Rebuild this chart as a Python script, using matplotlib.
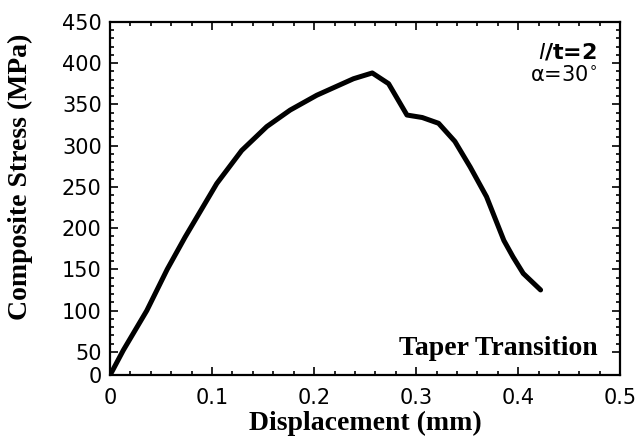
import numpy as np
from matplotlib import pyplot as plt
from matplotlib.ticker import FixedLocator, FixedFormatter

# displacement (mm) and composite stress (MPa)
displacement = [0, 0.013, 0.036, 0.056, 0.0735, 0.1046, 0.129, 0.1536,
                0.1765, 0.2026, 0.2386, 0.257, 0.273, 0.291, 0.306, 0.322,
                0.338, 0.353, 0.369, 0.386, 0.395, 0.405, 0.422]
stress = [0, 52, 100, 150, 189, 254, 294, 323,
          343, 361, 381, 388, 375, 337, 334, 327,
          305, 274, 238, 185, 165, 145, 125]

x_ticks = [0, 0.1, 0.2, 0.3, 0.4, 0.5]
y_ticks = [0, 50, 100, 150, 200, 250, 300, 350, 400, 450]

# the original y axis squeezes the 0-50 band
K = 0.565


def fwd(y):
    y = np.asarray(y, dtype=float)
    return np.where(y >= 50, y, 50 - (50 - y) * K)


def inv(y):
    y = np.asarray(y, dtype=float)
    return np.where(y >= 50, y, 50 - (50 - y) / K)


def main():
    plt.rcParams['font.family'] = 'DejaVu Sans'
    fig = plt.figure(figsize=(6.4, 4.45), dpi=100)
    ax = fig.add_axes([0.172, 0.157, 0.797, 0.794])

    ax.set_yscale('function', functions=(fwd, inv))
    ax.plot(displacement, stress, color='black', linewidth=3.6,
            solid_joinstyle='round', solid_capstyle='round')

    ax.set_xlim(0, 0.5)
    ax.set_ylim(0, 450)
    ax.xaxis.set_major_locator(FixedLocator(x_ticks))
    ax.xaxis.set_major_formatter(FixedFormatter([f'{t:g}' for t in x_ticks]))
    ax.xaxis.set_minor_locator(FixedLocator(np.arange(0, 0.5001, 0.02)))
    ax.yaxis.set_major_locator(FixedLocator(y_ticks))
    ax.yaxis.set_major_formatter(FixedFormatter([str(t) for t in y_ticks]))
    ax.yaxis.set_minor_locator(FixedLocator(np.arange(50, 451, 10)))

    ax.tick_params(which='both', direction='in', top=True, right=True,
                   width=1.2, labelsize=15)
    ax.tick_params(axis='x', pad=9)
    ax.tick_params(axis='y', pad=6)
    ax.tick_params(which='major', length=6)
    ax.tick_params(which='minor', length=3)
    for s in ax.spines.values():
        s.set_linewidth(1.6)

    ax.set_xlabel('Displacement (mm)', family='Liberation Serif',
                  fontweight='bold', fontsize=20, labelpad=2)
    ax.set_ylabel('Composite Stress (MPa)', family='Liberation Serif',
                  fontweight='bold', fontsize=20)
    ax.yaxis.set_label_coords(-0.152, 0.56)

    ax.text(0.955, 0.945, r'$\mathit{l}$/t=2', transform=ax.transAxes,
            ha='right', va='top', fontsize=16, fontweight='bold')
    ax.text(0.955, 0.878, r'$\mathrm{\alpha}$=30$^{\circ}$',
            transform=ax.transAxes, ha='right', va='top', fontsize=15)
    ax.text(0.955, 0.057, 'Taper Transition', transform=ax.transAxes,
            ha='right', va='baseline', family='Liberation Serif',
            fontweight='bold', fontsize=20)

    fig.savefig('out.png', dpi=100)


if __name__ == '__main__':
    main()
